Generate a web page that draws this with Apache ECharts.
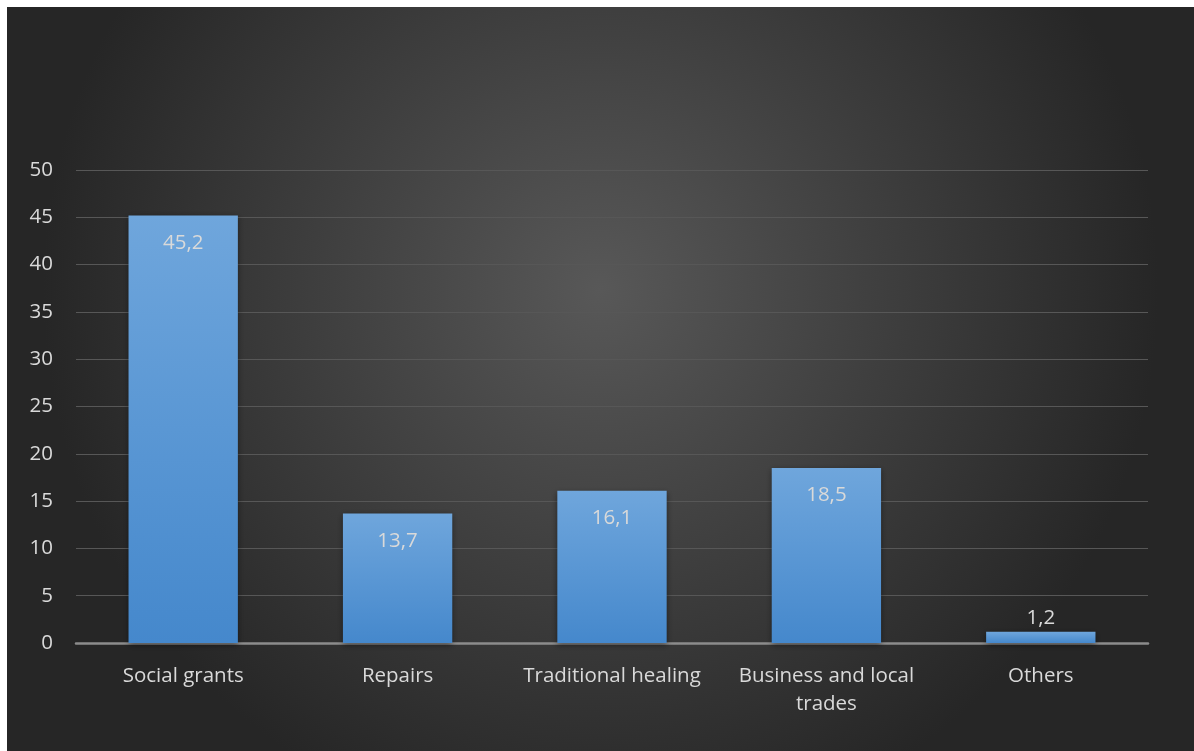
<!DOCTYPE html>
<html>
<head>
<meta charset="utf-8">
<script src="https://cdn.jsdelivr.net/npm/echarts@6/dist/echarts.min.js"></script>
<style>
  html, body { margin: 0; padding: 0; background: #ffffff; }
  #chart { position: absolute; left: 7px; top: 7px; width: 1187px; height: 744px; }
</style>
</head>
<body>
<div id="chart"></div>
<script>
// Sources of income (percent)
const categories = ['Social grants', 'Repairs', 'Traditional healing', 'Business and local\ntrades', 'Others'];
const values = [45.2, 13.7, 16.1, 18.5, 1.2];
const yTicks = { min: 0, max: 50, interval: 5 };

const fontFamily = '"Open Sans", Lato, sans-serif';

const chart = echarts.init(document.getElementById('chart'));
chart.setOption({
  backgroundColor: new echarts.graphic.RadialGradient(0.5, 0.38, 0.75, [
    { offset: 0, color: '#585858' },
    { offset: 1, color: '#262626' }
  ]),
  animation: false,
  grid: { left: 69, right: 46, top: 163, bottom: 108, containLabel: false },
  xAxis: {
    type: 'category',
    data: categories,
    axisLine: { lineStyle: { color: '#8c8c8c', width: 2.5 } },
    axisTick: { show: false },
    axisLabel: {
      interval: 0,
      hideOverlap: false,
      color: '#d9d9d9', fontSize: 20.5, fontFamily, margin: 19, lineHeight: 28
    }
  },
  yAxis: {
    type: 'value',
    min: yTicks.min, max: yTicks.max, interval: yTicks.interval,
    axisLine: { show: false },
    axisTick: { show: false },
    splitLine: { lineStyle: { color: '#575757', width: 1 } },
    axisLabel: { color: '#d9d9d9', fontSize: 20.5, fontFamily, margin: 23 }
  },
  series: [{
    type: 'bar',
    data: values.map(v => ({
      value: v,
      label: v < 5 ? { position: 'top', distance: 3 } : undefined
    })),
    barWidth: '51%',
    itemStyle: {
      color: new echarts.graphic.LinearGradient(0, 0, 0, 1, [
        { offset: 0, color: '#6fa6dc' },
        { offset: 1, color: '#4588cc' }
      ]),
      shadowColor: 'rgba(0,0,0,0.45)',
      shadowBlur: 6,
      shadowOffsetY: 2
    },
    label: {
      show: true,
      position: 'insideTop',
      distance: 17,
      color: '#d9d9d9',
      fontSize: 20.5,
      fontFamily,
      formatter: p => String(p.value).replace('.', ',')
    }
  }]
});
</script>
</body>
</html>
